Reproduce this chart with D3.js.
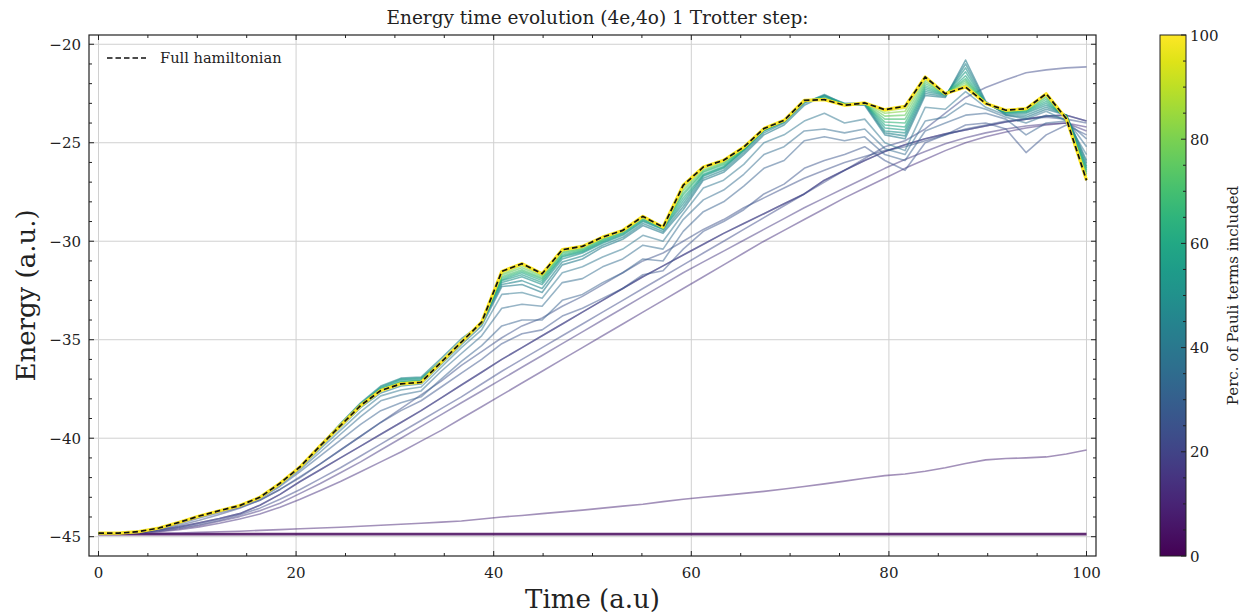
<!DOCTYPE html>
<html><head><meta charset="utf-8">
<script src="https://cdn.jsdelivr.net/npm/d3@7"></script>
<style>
body{margin:0;background:#fff}
text{font-family:"DejaVu Serif","Liberation Serif",serif;fill:#222}
</style></head>
<body><svg id="chart" width="1243" height="615"></svg>
<script>
// ---------- DATA ----------
const time = [0,2.04,4.08,6.12,8.16,10.2,12.24,14.29,16.33,18.37,20.41,22.45,24.49,26.53,28.57,30.61,32.65,34.69,36.73,38.78,40.82,42.86,44.9,46.94,48.98,51.02,53.06,55.1,57.14,59.18,61.22,63.27,65.31,67.35,69.39,71.43,73.47,75.51,77.55,79.59,81.63,83.67,85.71,87.76,89.8,91.84,93.88,95.92,97.96,100];

const eFlat = [-44.87,-44.87,-44.87,-44.87,-44.87,-44.87,-44.87,-44.87,-44.87,-44.87,-44.87,-44.87,-44.87,-44.87,-44.87,-44.87,-44.87,-44.87,-44.87,-44.87,-44.87,-44.87,-44.87,-44.87,-44.87,-44.87,-44.87,-44.87,-44.87,-44.87,-44.87,-44.87,-44.87,-44.87,-44.87,-44.87,-44.87,-44.87,-44.87,-44.87,-44.87,-44.87,-44.87,-44.87,-44.87,-44.87,-44.87,-44.87,-44.87,-44.87];
const eSlow = [-44.87,-44.86,-44.85,-44.83,-44.81,-44.78,-44.75,-44.72,-44.68,-44.64,-44.6,-44.56,-44.52,-44.47,-44.42,-44.37,-44.32,-44.26,-44.2,-44.1,-44.0,-43.92,-43.83,-43.74,-43.65,-43.55,-43.45,-43.35,-43.22,-43.1,-43.0,-42.9,-42.8,-42.7,-42.58,-42.45,-42.32,-42.18,-42.03,-41.9,-41.82,-41.68,-41.5,-41.28,-41.1,-41.03,-41.0,-40.95,-40.8,-40.6];
const eLowA = [-44.86,-44.85,-44.82,-44.75,-44.65,-44.5,-44.32,-44.1,-43.85,-43.5,-43.1,-42.65,-42.2,-41.7,-41.2,-40.7,-40.15,-39.6,-39.0,-38.4,-37.8,-37.2,-36.6,-36.0,-35.4,-34.8,-34.2,-33.6,-33.0,-32.4,-31.8,-31.2,-30.6,-30.0,-29.45,-28.9,-28.35,-27.8,-27.3,-26.8,-26.3,-25.85,-25.4,-25.0,-24.7,-24.45,-24.25,-24.1,-24.0,-24.2];
const eLowB = [-44.86,-44.84,-44.8,-44.72,-44.6,-44.43,-44.22,-43.98,-43.68,-43.3,-42.8,-42.3,-41.75,-41.2,-40.6,-40.0,-39.4,-38.8,-38.2,-37.6,-37.0,-36.4,-35.8,-35.2,-34.6,-34.0,-33.4,-32.8,-32.2,-31.6,-31.05,-30.5,-29.95,-29.4,-28.85,-28.3,-27.8,-27.3,-26.8,-26.3,-25.85,-25.45,-25.05,-24.75,-24.5,-24.3,-24.15,-24.05,-24.0,-24.4];
const eDark = [-44.85,-44.83,-44.78,-44.66,-44.5,-44.3,-44.08,-43.83,-43.4,-42.85,-42.2,-41.6,-41.0,-40.4,-39.8,-39.2,-38.6,-37.95,-37.3,-36.65,-36.0,-35.4,-34.8,-34.2,-33.6,-33.0,-32.4,-31.8,-31.25,-30.7,-30.15,-29.6,-29.1,-28.6,-28.1,-27.6,-26.9,-26.4,-25.9,-25.45,-25.1,-24.8,-24.55,-24.35,-24.15,-23.95,-23.8,-23.65,-23.6,-23.9];
const eRise = [-44.86,-44.84,-44.79,-44.7,-44.56,-44.38,-44.16,-43.9,-43.55,-43.1,-42.6,-42.05,-41.5,-40.9,-40.3,-39.7,-39.1,-38.5,-37.9,-37.25,-36.6,-36.0,-35.4,-34.8,-34.2,-33.6,-33.0,-32.4,-31.8,-31.2,-30.6,-30.0,-29.4,-28.8,-28.2,-27.6,-27.0,-26.4,-25.8,-25.2,-24.9,-24.3,-23.5,-22.7,-22.2,-21.8,-21.45,-21.3,-21.2,-21.15];
const eUpper = [-44.85,-44.83,-44.77,-44.63,-44.43,-44.17,-43.87,-43.55,-43.15,-42.6,-42.0,-41.3,-40.6,-39.9,-39.2,-38.5,-37.8,-37.1,-36.3,-35.6,-34.9,-34.3,-33.9,-33.3,-32.8,-32.2,-31.6,-31.0,-30.6,-30.0,-29.4,-28.9,-28.3,-27.8,-27.3,-26.8,-26.4,-26.0,-25.7,-25.4,-25.2,-24.9,-24.6,-24.3,-24.1,-23.9,-23.8,-23.7,-23.8,-24.0];
const eB1 = [-44.83,-44.82,-44.76,-44.6,-44.35,-44.05,-43.78,-43.52,-43.15,-42.6,-41.95,-41.3,-40.6,-39.9,-39.2,-38.6,-38.1,-37.4,-36.7,-36.0,-35.2,-34.7,-34.5,-33.8,-33.4,-32.9,-32.4,-31.7,-31.5,-30.4,-29.5,-29.0,-28.4,-27.6,-27.1,-26.3,-25.9,-25.6,-25.2,-25.9,-26.4,-25.0,-24.6,-24.1,-24.0,-24.3,-25.5,-24.6,-24.1,-24.6];
const eB2 = [-44.83,-44.82,-44.75,-44.58,-44.3,-44.0,-43.72,-43.46,-43.07,-42.45,-41.7,-40.9,-40.1,-39.3,-38.6,-38.2,-37.9,-37.0,-36.1,-35.3,-34.3,-34.0,-34.0,-33.0,-32.7,-32.1,-31.6,-30.9,-31.0,-29.5,-28.5,-28.0,-27.2,-26.3,-25.9,-24.9,-24.7,-24.9,-24.7,-25.6,-25.9,-24.4,-24.0,-23.6,-23.5,-23.8,-24.6,-24.0,-23.9,-24.8];
const eB3 = [-44.83,-44.82,-44.75,-44.57,-44.29,-43.98,-43.7,-43.44,-43.04,-42.38,-41.6,-40.7,-39.8,-38.9,-38.1,-37.8,-37.6,-36.6,-35.7,-34.8,-33.4,-33.2,-33.3,-32.1,-31.9,-31.3,-30.9,-30.2,-30.4,-28.9,-27.9,-27.4,-26.6,-25.6,-25.2,-24.4,-24.3,-24.5,-24.3,-25.3,-25.6,-23.9,-23.7,-23.0,-23.3,-23.7,-24.0,-23.6,-23.8,-25.2];
const eB4 = [-44.82,-44.82,-44.74,-44.56,-44.28,-43.96,-43.69,-43.43,-43.02,-42.33,-41.52,-40.55,-39.6,-38.65,-37.85,-37.55,-37.4,-36.4,-35.4,-34.5,-32.7,-32.6,-32.9,-31.6,-31.3,-30.8,-30.4,-29.7,-30.0,-28.6,-27.3,-26.9,-26.1,-25.0,-24.6,-23.9,-23.5,-24.0,-23.8,-25.0,-25.4,-23.2,-23.3,-22.4,-23.2,-23.6,-23.8,-23.4,-23.9,-25.6];
const eB5 = [-44.82,-44.82,-44.74,-44.56,-44.27,-43.95,-43.68,-43.42,-43.0,-42.3,-41.47,-40.45,-39.45,-38.45,-37.7,-37.35,-37.25,-36.25,-35.25,-34.3,-32.3,-32.2,-32.6,-31.2,-30.9,-30.3,-29.9,-29.2,-29.6,-28.4,-26.9,-26.5,-25.6,-24.6,-24.1,-23.1,-22.6,-23.1,-23.1,-24.6,-24.8,-22.6,-22.7,-20.8,-22.9,-23.6,-23.7,-23.3,-23.6,-25.9];
const eT5 = [-44.82,-44.82,-44.74,-44.56,-44.27,-43.95,-43.68,-43.42,-43.0,-42.29,-41.45,-40.36,-39.25,-38.2,-37.35,-36.95,-36.9,-35.95,-34.95,-34.2,-32.2,-32.0,-32.4,-31.05,-30.75,-30.2,-29.8,-29.1,-29.5,-28.25,-26.8,-26.4,-25.5,-24.5,-24.0,-23.0,-22.55,-23.05,-23.05,-24.5,-24.65,-22.5,-22.65,-21.0,-22.95,-23.55,-23.6,-23.2,-23.6,-26.05];
const eT1 = [-44.82,-44.82,-44.74,-44.56,-44.27,-43.95,-43.68,-43.42,-43.0,-42.29,-41.45,-40.38,-39.3,-38.28,-37.45,-37.05,-37.0,-36.1,-35.1,-34.15,-32.1,-31.8,-32.2,-30.9,-30.6,-30.1,-29.7,-29.0,-29.4,-28.1,-26.7,-26.3,-25.4,-24.4,-23.95,-22.95,-22.6,-23.0,-23.0,-24.4,-24.5,-22.4,-22.6,-21.2,-23.0,-23.5,-23.5,-23.1,-23.6,-26.2];
const eT6 = [-44.82,-44.82,-44.74,-44.56,-44.27,-43.95,-43.68,-43.42,-43.0,-42.29,-41.45,-40.38,-39.28,-38.24,-37.4,-37.0,-36.95,-36.08,-35.08,-34.12,-32.0,-31.7,-32.1,-30.8,-30.55,-30.05,-29.65,-28.95,-29.38,-27.95,-26.65,-26.25,-25.38,-24.38,-23.92,-22.92,-22.65,-23.02,-23.0,-24.25,-24.35,-22.3,-22.58,-21.4,-23.0,-23.48,-23.45,-23.0,-23.65,-26.3];
const eT2 = [-44.82,-44.82,-44.74,-44.56,-44.27,-43.95,-43.68,-43.42,-43.0,-42.29,-41.45,-40.38,-39.33,-38.3,-37.5,-37.12,-37.06,-36.12,-35.11,-34.13,-31.95,-31.6,-32.0,-30.75,-30.5,-30.0,-29.6,-28.9,-29.35,-27.8,-26.6,-26.2,-25.35,-24.35,-23.9,-22.9,-22.7,-23.05,-23.0,-24.1,-24.2,-22.2,-22.55,-21.6,-23.0,-23.45,-23.4,-22.9,-23.7,-26.4];
const eT7 = [-44.82,-44.82,-44.74,-44.56,-44.27,-43.95,-43.68,-43.42,-43.0,-42.29,-41.45,-40.38,-39.34,-38.31,-37.52,-37.15,-37.08,-36.12,-35.12,-34.12,-31.88,-31.52,-31.92,-30.68,-30.45,-29.95,-29.55,-28.85,-29.32,-27.65,-26.5,-26.12,-25.32,-24.32,-23.89,-22.88,-22.75,-23.06,-23.0,-23.95,-24.0,-22.1,-22.52,-21.75,-23.0,-23.42,-23.38,-22.8,-23.72,-26.5];
const eT3 = [-44.82,-44.82,-44.74,-44.56,-44.27,-43.95,-43.68,-43.42,-43.0,-42.29,-41.45,-40.38,-39.35,-38.32,-37.54,-37.18,-37.1,-36.13,-35.12,-34.12,-31.8,-31.45,-31.85,-30.6,-30.4,-29.9,-29.5,-28.8,-29.3,-27.55,-26.45,-26.05,-25.3,-24.3,-23.88,-22.87,-22.78,-23.08,-23.0,-23.8,-23.8,-22.0,-22.5,-21.85,-23.0,-23.4,-23.35,-22.7,-23.75,-26.6];
const eT8 = [-44.82,-44.82,-44.74,-44.56,-44.27,-43.95,-43.68,-43.42,-43.0,-42.29,-41.45,-40.38,-39.35,-38.33,-37.56,-37.2,-37.12,-36.14,-35.12,-34.11,-31.72,-31.35,-31.78,-30.55,-30.35,-29.86,-29.48,-28.78,-29.29,-27.42,-26.38,-26.0,-25.28,-24.29,-23.87,-22.86,-22.8,-23.09,-22.99,-23.65,-23.6,-21.9,-22.5,-21.95,-23.0,-23.38,-23.32,-22.62,-23.76,-26.7];
const eT4 = [-44.82,-44.82,-44.74,-44.56,-44.27,-43.95,-43.68,-43.42,-43.0,-42.29,-41.45,-40.38,-39.36,-38.34,-37.57,-37.22,-37.14,-36.14,-35.12,-34.11,-31.65,-31.25,-31.72,-30.5,-30.3,-29.83,-29.47,-28.76,-29.28,-27.3,-26.3,-25.95,-25.25,-24.28,-23.86,-22.85,-22.8,-23.1,-22.98,-23.5,-23.4,-21.8,-22.5,-22.05,-23.0,-23.37,-23.3,-22.55,-23.77,-26.8];
const eT9 = [-44.82,-44.82,-44.74,-44.56,-44.27,-43.95,-43.68,-43.42,-43.0,-42.29,-41.45,-40.38,-39.36,-38.34,-37.58,-37.23,-37.15,-36.14,-35.12,-34.11,-31.58,-31.18,-31.68,-30.46,-30.28,-29.8,-29.46,-28.75,-29.28,-27.2,-26.26,-25.91,-25.23,-24.28,-23.86,-22.85,-22.81,-23.1,-22.98,-23.4,-23.25,-21.72,-22.51,-22.12,-23.01,-23.36,-23.28,-22.53,-23.78,-26.85];
const eFull = [-44.82,-44.82,-44.74,-44.56,-44.27,-43.95,-43.68,-43.42,-43.0,-42.29,-41.45,-40.38,-39.36,-38.34,-37.58,-37.24,-37.16,-36.14,-35.12,-34.11,-31.53,-31.14,-31.65,-30.43,-30.26,-29.79,-29.45,-28.74,-29.28,-27.16,-26.23,-25.89,-25.22,-24.28,-23.86,-22.85,-22.81,-23.1,-22.98,-23.32,-23.15,-21.66,-22.51,-22.17,-23.01,-23.35,-23.27,-22.51,-23.78,-26.91];

const percents = [2, 10, 14, 16, 18, 20, 22, 24, 26, 30, 34, 38, 42, 46, 50, 56, 60, 66, 70, 76, 82, 90, 100];
const seriesValues = [eFlat, eSlow, eLowA, eLowB, eDark, eDark, eRise, eUpper, eB1, eB2, eB3, eB4, eB5, eT5, eT1, eT6, eT2, eT7, eT3, eT8, eT4, eT9, eFull];

const xTicks = [0, 20, 40, 60, 80, 100];
const yTicks = [-45, -40, -35, -30, -25, -20];
const cbTicks = [0, 20, 40, 60, 80, 100];

const titleText = "Energy time evolution (4e,4o) 1 Trotter step:";
const xLabel = "Time (a.u)";
const yLabel = "Energy (a.u.)";
const cbLabel = "Perc. of Pauli terms included";
const legendLabel = "Full hamiltonian";

// ---------- LAYOUT ----------
const svg = d3.select("#chart");
const L = 89, R = 1096, T = 35, B = 556;
const x = d3.scaleLinear().domain([-0.96, 100.96]).range([L, R]);
const y = d3.scaleLinear().domain([-45.98, -19.53]).range([B, T]);
const color = p => d3.interpolateViridis(p / 100);

const grid = svg.append("g");
grid.selectAll(".gx").data(xTicks).join("line")
  .attr("x1", d => x(d)).attr("x2", d => x(d)).attr("y1", T).attr("y2", B)
  .attr("stroke", "#d0d0d0").attr("stroke-width", 1);
grid.selectAll(".gy").data(yTicks).join("line")
  .attr("x1", L).attr("x2", R).attr("y1", d => y(d)).attr("y2", d => y(d))
  .attr("stroke", "#d0d0d0").attr("stroke-width", 1);

svg.append("clipPath").attr("id", "clip").append("rect")
  .attr("x", L).attr("y", T).attr("width", R - L).attr("height", B - T);

const line = d3.line().x((d, i) => x(time[i])).y(d => y(d));
const gLines = svg.append("g").attr("clip-path", "url(#clip)");
seriesValues.forEach((vals, k) => {
  const p = percents[k];
  const isFull = p === 100;
  gLines.append("path").datum(vals).attr("d", line)
    .attr("fill", "none")
    .attr("stroke", color(p))
    .attr("stroke-width", isFull ? 3.2 : (p <= 2 ? 2.6 : 1.6))
    .attr("stroke-opacity", isFull ? 1 : (p <= 2 ? 0.85 : (p >= 40 ? 0.6 : 0.5)))
    .attr("stroke-linejoin", "round");
});
gLines.append("path").datum(eFull).attr("d", line)
  .attr("fill", "none").attr("stroke", "#111").attr("stroke-width", 1.7)
  .attr("stroke-dasharray", "5.5,3");

const axes = svg.append("g");
function tickSet(vals, size, side) {
  vals.forEach(v => {
    if (side === "bottom" || side === "top") {
      const px = x(v), y0 = side === "bottom" ? B : T;
      axes.append("line").attr("x1", px).attr("x2", px).attr("y1", y0)
        .attr("y2", side === "bottom" ? y0 - size : y0 + size)
        .attr("stroke", "#222").attr("stroke-width", 1);
    } else {
      const py = y(v), x0 = side === "left" ? L : R;
      axes.append("line").attr("y1", py).attr("y2", py).attr("x1", x0)
        .attr("x2", side === "left" ? x0 + size : x0 - size)
        .attr("stroke", "#222").attr("stroke-width", 1);
    }
  });
}
const xMinor = d3.range(0, 101, 5).filter(v => v % 20 !== 0);
const yMinor = d3.range(-45, -19, 1).filter(v => v % 5 !== 0);
["bottom", "top"].forEach(s => { tickSet(xTicks, 5, s); tickSet(xMinor, 3, s); });
["left", "right"].forEach(s => { tickSet(yTicks, 5, s); tickSet(yMinor, 3, s); });
axes.append("rect").attr("x", L).attr("y", T).attr("width", R - L).attr("height", B - T)
  .attr("fill", "none").attr("stroke", "#222").attr("stroke-width", 1.2);

const fmt = d3.format("d");
axes.selectAll(".xl").data(xTicks).join("text")
  .attr("x", d => x(d)).attr("y", B + 22).attr("text-anchor", "middle")
  .attr("font-size", 15).text(d => fmt(d));
axes.selectAll(".yl").data(yTicks).join("text")
  .attr("x", L - 8).attr("y", d => y(d) + 5.5).attr("text-anchor", "end")
  .attr("font-size", 15).text(d => fmt(d));

svg.append("text").attr("x", (L + R) / 2 + 5).attr("y", 24).attr("text-anchor", "middle")
  .attr("font-size", 18.5).text(titleText);
svg.append("text").attr("x", (L + R) / 2).attr("y", 608).attr("text-anchor", "middle")
  .attr("font-size", 26).text(xLabel);
svg.append("text").attr("transform", `translate(35,${(T + B) / 2}) rotate(-90)`)
  .attr("text-anchor", "middle").attr("font-size", 26).text(yLabel);

svg.append("line").attr("x1", 107).attr("x2", 146).attr("y1", 58).attr("y2", 58)
  .attr("stroke", "#111").attr("stroke-width", 1.7).attr("stroke-dasharray", "5.5,3");
svg.append("text").attr("x", 160).attr("y", 63).attr("font-size", 14.6).text(legendLabel);

const cbX = 1160, cbW = 26;
const c = d3.scaleLinear().domain([0, 100]).range([B, T]);
const defs = svg.append("defs");
const grad = defs.append("linearGradient").attr("id", "vir").attr("x1", 0).attr("y1", 1).attr("x2", 0).attr("y2", 0);
d3.range(0, 1.0001, 0.05).forEach(t => grad.append("stop").attr("offset", t).attr("stop-color", d3.interpolateViridis(t)));
svg.append("rect").attr("x", cbX).attr("y", T).attr("width", cbW).attr("height", B - T).attr("fill", "url(#vir)");
const cbMinor = d3.range(0, 101, 5).filter(v => v % 20 !== 0);
cbTicks.forEach(v => svg.append("line").attr("x1", cbX + cbW).attr("x2", cbX + cbW - 5)
  .attr("y1", c(v)).attr("y2", c(v)).attr("stroke", "#222"));
cbMinor.forEach(v => svg.append("line").attr("x1", cbX + cbW).attr("x2", cbX + cbW - 3)
  .attr("y1", c(v)).attr("y2", c(v)).attr("stroke", "#222"));
svg.append("rect").attr("x", cbX).attr("y", T).attr("width", cbW).attr("height", B - T)
  .attr("fill", "none").attr("stroke", "#222").attr("stroke-width", 1);
svg.selectAll(".cbl").data(cbTicks).join("text")
  .attr("x", cbX + cbW + 4).attr("y", d => c(d) + 5.5).attr("font-size", 15).text(d => fmt(d));
svg.append("text").attr("transform", `translate(1238,${(T + B) / 2}) rotate(-90)`)
  .attr("text-anchor", "middle").attr("font-size", 15).text(cbLabel);
</script></body></html>
